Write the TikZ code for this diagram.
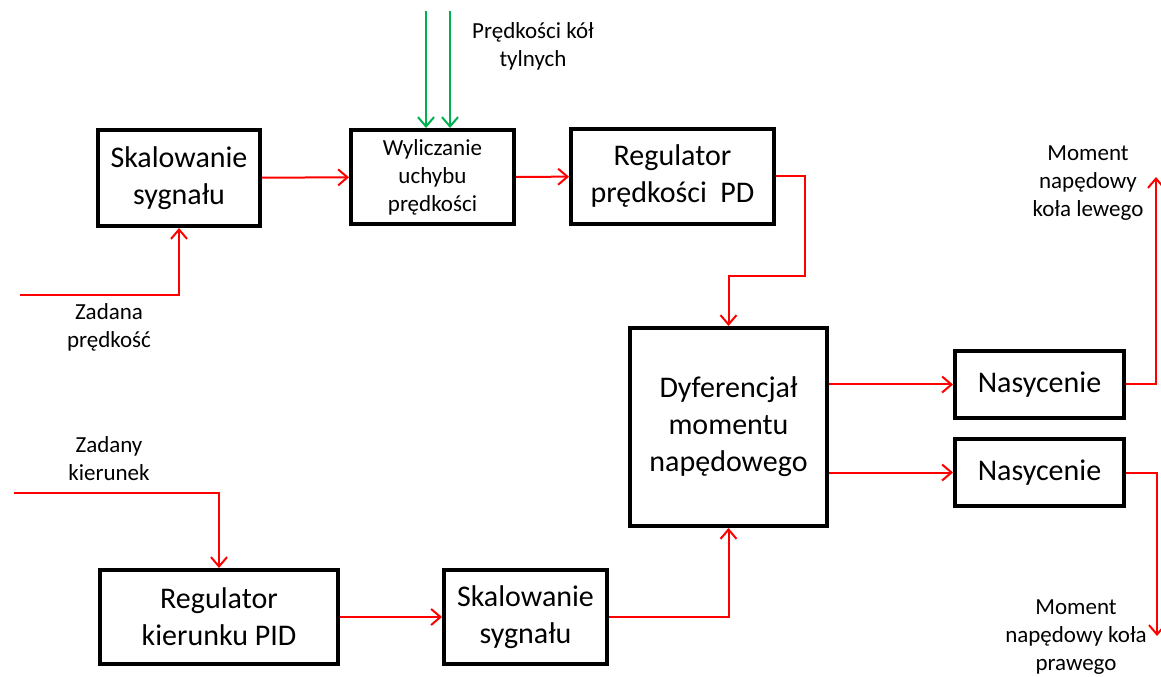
\documentclass[tikz,border=0pt]{standalone}
\usepackage{fontspec}
\setmainfont{Carlito}
\usepackage{xcolor}
\usetikzlibrary{
	arrows.meta,
	calc,
	positioning
}

\definecolor{zielony}{RGB}{0,176,80}
\definecolor{czerwony}{RGB}{255,0,0}

\tikzset{
	blok/.style 2 args={draw, line width=3pt, inner sep=0pt, align=center,
		minimum width=#1*0.75pt, minimum height=#2*0.75pt,
		font=\fontsize{22.5}{27.75}\selectfont},
	maly/.style={font=\fontsize{17.25}{21}\selectfont},
	opis/.style={align=center, inner sep=0pt, font=\fontsize{17.25}{21}\selectfont},
	grot/.style={-{Straight Barb[length=7pt,width=12pt]}},
	sygnal/.style={grot, draw=czerwony, line width=1.5pt},
	pomiar/.style={grot, draw=zielony, line width=1.5pt}
}

\begin{document}
\begin{tikzpicture}[x=0.75pt, y=-0.75pt]
	\useasboundingbox (0,0) rectangle (1161,677);

	% bloki toru predkosci
	\node[blok={162}{96}] (skalA) at (179,178) {Skalowanie\\sygnału};
	\node[blok={163}{94}, maly] (wyl) at (432.5,177) {Wyliczanie\\uchybu\\prędkości};
	\node[blok={203}{95}] (regPD) at (672.5,176.5) {Regulator\\prędkości~~PD};
	\node[blok={197}{198}] (dyf) at (728.5,427) {Dyferencjał\\momentu\\napędowego};
	\node[blok={169}{67}] (nas1) at (1039.5,384.5) {Nasycenie};
	\node[blok={169}{67}] (nas2) at (1039.5,472.5) {Nasycenie};
	% bloki toru kierunku
	\node[blok={238}{94}] (pid) at (219,617) {Regulator\\kierunku PID};
	\node[blok={163}{94}] (skalB) at (525.5,617) {Skalowanie\\sygnału};

	% opisy wejsc i wyjsc
	\node[opis] (zadV) at (109,327) {Zadana\\prędkość};
	\node[opis] (zadK) at (109,459) {Zadany\\kierunek};
	\node[opis] (kola) at (533,46.5) {Prędkości kół\\tylnych};
	\node[opis] (momL) at (1088,183) {Moment\\napędowy\\koła lewego};
	\node[opis] (momP) at (1076,637) {Moment\\napędowy koła\\prawego};

	\coordinate (inV) at (20,295);
	\coordinate (inK) at (14,493);
	\coordinate (g1) at (426,11);
	\coordinate (g2) at (450,11);
	\coordinate (outL) at (1156,177);
	\coordinate (outP) at (1157,636);

	% polaczenia
	\draw[sygnal] (inV) -| (skalA.south);
	\draw[sygnal] (skalA) -- (wyl);
	\draw[pomiar] (g1) -- (g1 |- wyl.north);
	\draw[pomiar] (g2) -- (g2 |- wyl.north);
	\draw[sygnal] (wyl) -- (regPD);
	\draw[sygnal] (regPD.east) -- ++(29,0) -- ++(0,100) -| (dyf.north);
	\draw[sygnal] (dyf.east |- nas1) -- (nas1.west);
	\draw[sygnal] (dyf.east |- nas2) -- (nas2.west);
	\draw[sygnal] (nas1.east) -| (outL);
	\draw[sygnal] (nas2.east) -| (outP);
	\draw[sygnal] (inK) -| (pid.north);
	\draw[sygnal] (pid) -- (skalB);
	\draw[sygnal] (skalB.east) -| (dyf.south);
\end{tikzpicture}
\end{document}
